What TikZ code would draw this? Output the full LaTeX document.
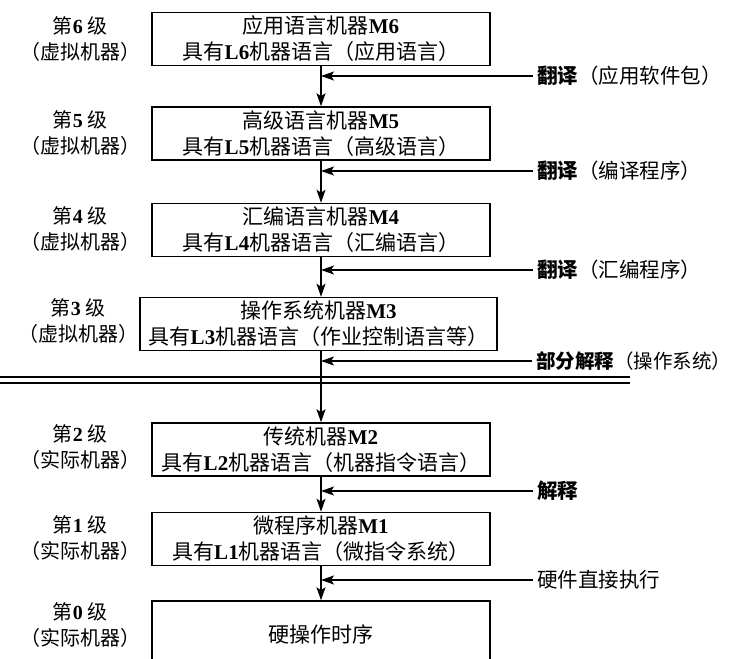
\documentclass[tikz,border=0pt]{standalone}
\usepackage{fontspec}
\setmainfont{Liberation Serif}
\newfontfamily\cjk{Noto Sans CJK SC}
\usetikzlibrary{arrows.meta}
\newcommand{\lat}[1]{{\rmfamily\bfseries #1}}
\begin{document}
\begin{tikzpicture}[x=1pt,y=-1pt,
  box/.style={draw, line width=1.5pt, minimum width=338pt, minimum height=53pt,
    align=center, inner sep=0pt, font=\cjk\fontsize{21}{26}\selectfont},
  lvl/.style={align=center, inner sep=0pt, font=\cjk\fontsize{20}{26}\selectfont},
  side/.style={anchor=west, inner sep=0pt, font=\cjk\fontsize{20.5}{24}\selectfont},
  conn/.style={line width=1.5pt, -{Stealth[length=13pt,width=9pt,inset=3pt]}},
  sidearrow/.style={line width=1.5pt, -{Stealth[length=13pt,width=9pt,inset=3pt]}},
  divider/.style={line width=1.5pt}]
\clip (0,0) rectangle (735,658);
\useasboundingbox (0,0) rectangle (735,658);
\fill[white] (0,0) rectangle (735,658);

% boxes
\node[box] (M6) at (321,39) {应用语言机器\lat{M6}\\具有\lat{L6}机器语言（应用语言）};
\node[box] (M5) at (321,133.5) {高级语言机器\lat{M5}\\具有\lat{L5}机器语言（高级语言）};
\node[box] (M4) at (321,230) {汇编语言机器\lat{M4}\\具有\lat{L4}机器语言（汇编语言）};
\node[box, minimum width=357pt] (M3) at (318.5,324) {操作系统机器\lat{M3}\\具有\lat{L3}机器语言（作业控制语言等）};
\node[box] (M2) at (321,449.5) {传统机器\lat{M2}\\具有\lat{L2}机器语言（机器指令语言）};
\node[box] (M1) at (321,539) {微程序机器\lat{M1}\\具有\lat{L1}机器语言（微指令系统）};
\node[box, minimum height=66pt] (M0) at (321,634) {硬操作时序};

% level labels
\node[lvl] (V6) at (80,39) {第\lat{6} 级\\（虚拟机器）};
\node[lvl] (V5) at (80,133) {第\lat{5} 级\\（虚拟机器）};
\node[lvl] (V4) at (80,229) {第\lat{4} 级\\（虚拟机器）};
\node[lvl] (V3) at (78,321) {第\lat{3} 级\\（虚拟机器）};
\node[lvl] (V2) at (80,447) {第\lat{2} 级\\（实际机器）};
\node[lvl] (V1) at (80,538) {第\lat{1} 级\\（实际机器）};
\node[lvl] (V0) at (80,625) {第\lat{0} 级\\（实际机器）};

% side labels
\node[side] (T6) at (537,76) {\textbf{翻译}（应用软件包）};
\node[side] (T5) at (537,171) {\textbf{翻译}（编译程序）};
\node[side] (T4) at (537,270) {\textbf{翻译}（汇编程序）};
\node[side, font=\cjk\fontsize{19.5}{24}\selectfont] (T3) at (536,361) {\textbf{部分解释}（操作系统）};
\node[side] (T2) at (537,491) {\textbf{解释}};
\node[side] (T1) at (537,580) {硬件直接执行};

% vertical connectors
\draw[conn] (M6.south) -- (M5.north);
\draw[conn] (M5.south) -- (M4.north);
\draw[conn] (M4.south) -- (M3.north -| M4.south);
\draw[conn] (M3.south -| M2.north) -- (M2.north);
\draw[conn] (M2.south) -- (M1.north);
\draw[conn] (M1.south) -- (M0.north);

% side arrows
\draw[sidearrow] ([xshift=-4pt]T6.west) -- (T6.west -| M6.south);
\draw[sidearrow] ([xshift=-4pt]T5.west) -- (T5.west -| M5.south);
\draw[sidearrow] ([xshift=-4pt]T4.west) -- (T4.west -| M4.south);
\draw[sidearrow] ([xshift=-4pt]T3.west) -- (T3.west -| M2.north);
\draw[sidearrow] ([xshift=-4pt]T2.west) -- (T2.west -| M2.south);
\draw[sidearrow] ([xshift=-4pt]T1.west) -- (T1.west -| M1.south);

% divider between virtual and real machines
\draw[divider] (0,377) -- (630,377);
\draw[divider] (0,383) -- (630,383);
\end{tikzpicture}
\end{document}
